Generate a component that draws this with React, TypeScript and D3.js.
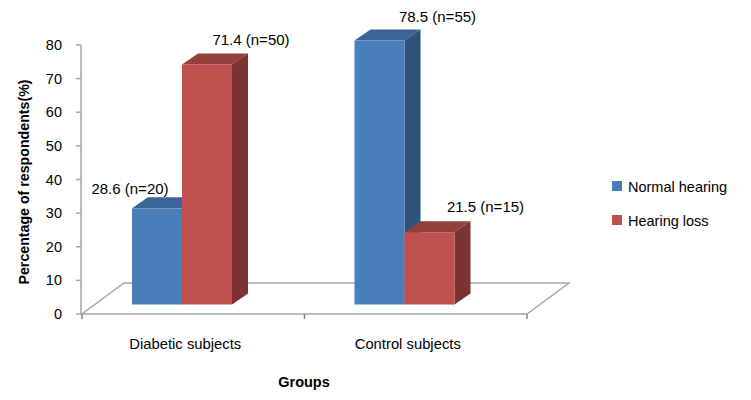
import { useMemo } from "react";
import * as d3 from "d3";

const WIDTH = 751;
const HEIGHT = 400;

const categories = ["Diabetic subjects", "Control subjects"];
const seriesNames = ["Normal hearing", "Hearing loss"];
const normalHearing = [28.6, 78.5];
const hearingLoss = [71.4, 21.5];
const normalCounts = [20, 55];
const lossCounts = [50, 15];
const yTicks = [0, 10, 20, 30, 40, 50, 60, 70, 80];

// colours for front / top / side of each series
const COLORS = [
    { front: "#4A7EBB", top: "#3A6596", side: "#2E5279" },
    { front: "#C0504D", top: "#93403D", side: "#7A3331" },
];

// hand placed label nudges, relative to the top centre of the bar front
const LABEL_NUDGE = [
    [
        [-27, -20],
        [44, -25],
    ],
    [
        [58, -24],
        [56, -26],
    ],
];

const FONT = "Liberation Sans, Arial, sans-serif";
const FLOOR = { left: 82, right: 527, y: 314 };
const FLOOR_DEPTH = { dx: 42, dy: -31 };
const BAR_SHIFT = -9.5; // bars sit a bit behind the front edge of the floor
const BAR_DEPTH = { dx: 16, dy: -11 };

const App = () => {
    const yScale = useMemo(
        () => d3.scaleLinear().domain([0, 80]).range([FLOOR.y, 45]),
        []
    );
    const xScale = useMemo(
        () => d3.scaleBand().domain(categories).range([FLOOR.left, FLOOR.right]),
        []
    );
    const innerScale = useMemo(
        () => d3.scaleBand().domain(seriesNames).range([50, 150]),
        []
    );

    const values = [normalHearing, hearingLoss];
    const counts = [normalCounts, lossCounts];

    const bars = categories.map((cat, ci) =>
        seriesNames.map((s, si) => {
            const x0 = (xScale(cat) ?? 0) + (innerScale(s) ?? 0);
            const w = innerScale.bandwidth();
            const v = values[si][ci];
            const yTop = yScale(v) + BAR_SHIFT;
            const yBot = yScale(0) + BAR_SHIFT;
            const { dx, dy } = BAR_DEPTH;
            const c = COLORS[si];
            const top = d3.path();
            top.moveTo(x0, yTop);
            top.lineTo(x0 + dx, yTop + dy);
            top.lineTo(x0 + w + dx, yTop + dy);
            top.lineTo(x0 + w, yTop);
            top.closePath();
            const side = d3.path();
            side.moveTo(x0 + w, yTop);
            side.lineTo(x0 + w + dx, yTop + dy);
            side.lineTo(x0 + w + dx, yBot + dy);
            side.lineTo(x0 + w, yBot);
            side.closePath();
            const [nx, ny] = LABEL_NUDGE[ci][si];
            return (
                <g key={`${ci}-${si}`}>
                    <path d={top.toString()} fill={c.top} />
                    <path d={side.toString()} fill={c.side} />
                    <rect x={x0} y={yTop} width={w} height={yBot - yTop} fill={c.front} />
                    <text
                        x={x0 + w / 2 + nx}
                        y={yTop + ny}
                        textAnchor="middle"
                        dominantBaseline="central"
                        fontSize={15}
                        fill="#000"
                    >
                        {`${v} (n=${counts[si][ci]})`}
                    </text>
                </g>
            );
        })
    );

    const floorPath = d3.path();
    floorPath.moveTo(FLOOR.left, FLOOR.y);
    floorPath.lineTo(FLOOR.right, FLOOR.y);
    floorPath.lineTo(FLOOR.right + FLOOR_DEPTH.dx, FLOOR.y + FLOOR_DEPTH.dy);
    floorPath.lineTo(FLOOR.left + FLOOR_DEPTH.dx, FLOOR.y + FLOOR_DEPTH.dy);
    floorPath.closePath();

    const catTicks = [...categories.map((c) => xScale(c) ?? 0), FLOOR.right];

    return (
        <div style={{ position: "absolute", left: 0, top: 0 }}>
            <svg width={WIDTH} height={HEIGHT} style={{ display: "block", background: "white" }} fontFamily={FONT}>
                {/* floor */}
                <path d={floorPath.toString()} fill="none" stroke="#A6A6A6" strokeWidth={1.5} />
                {catTicks.map((x, i) => (
                    <line key={i} x1={x} x2={x} y1={FLOOR.y} y2={FLOOR.y + 5} stroke="#888" strokeWidth={1.5} />
                ))}

                {/* y axis */}
                <line x1={81} x2={81} y1={yScale(80)} y2={yScale(0)} stroke="#A6A6A6" strokeWidth={1.5} />
                {yTicks.map((t) => (
                    <g key={t}>
                        <line x1={76} x2={81} y1={yScale(t)} y2={yScale(t)} stroke="#A6A6A6" strokeWidth={1.5} />
                        <text x={62} y={yScale(t)} textAnchor="end" dominantBaseline="central" fontSize={14.5}>
                            {t}
                        </text>
                    </g>
                ))}

                {bars}

                {/* category labels */}
                {categories.map((c) => (
                    <text
                        key={c}
                        x={(xScale(c) ?? 0) + xScale.bandwidth() / 2 - 8}
                        y={344}
                        textAnchor="middle"
                        dominantBaseline="central"
                        fontSize={14.8}
                    >
                        {c}
                    </text>
                ))}

                {/* axis titles */}
                <text x={304} y={382} textAnchor="middle" dominantBaseline="central" fontSize={14.5} fontWeight="bold">
                    Groups
                </text>
                <text
                    transform={`translate(24,182) rotate(-90)`}
                    textAnchor="middle"
                    dominantBaseline="central"
                    fontSize={14.2}
                    fontWeight="bold"
                >
                    Percentage of respondents(%)
                </text>

                {/* legend */}
                {seriesNames.map((s, i) => (
                    <g key={s} transform={`translate(612,${181 + i * 34})`}>
                        <rect width={10} height={10} fill={COLORS[i].front} />
                        <text x={16} y={5.5} dominantBaseline="central" fontSize={14.5}>
                            {s}
                        </text>
                    </g>
                ))}
            </svg>
        </div>
    );
};

export default App;
